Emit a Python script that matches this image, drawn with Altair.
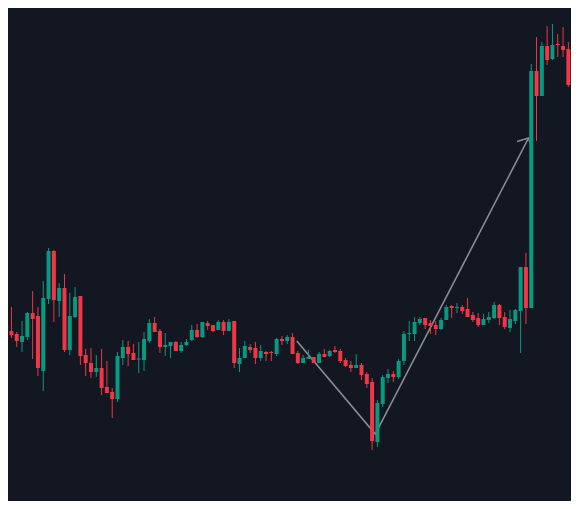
import altair as alt
import pandas as pd

# OHLC values (one candle per period)
opens = [17.4, 16.9, 16.6, 15.8, 16.3, 18.7, 18.4, 12.9, 20.1, 24.9,
         19.9, 21.2, 15.0, 18.3, 20.4, 14.5, 13.7, 12.8, 13.2, 11.3,
         10.8, 10.1, 14.2, 15.3, 14.7, 14.05, 14.0, 15.9, 17.7, 16.9,
         15.3, 15.4, 15.8, 14.9, 15.5, 16.0, 17.0, 16.3, 17.7, 17.5,
         17.0, 17.8, 16.9, 17.9, 13.6, 14.2, 15.3, 15.2, 14.2, 14.8,
         14.8, 14.6, 16.1, 15.9, 16.3, 14.7, 13.7, 14.1, 14.3, 13.7,
         14.6, 14.4, 15.0, 14.9, 14.0, 13.5, 13.2, 13.5, 12.6, 11.8,
         5.8, 9.6, 12.2, 12.6, 12.3, 13.9, 16.6, 16.6, 17.7, 18.2,
         17.7, 17.5, 17.1, 18.0, 19.4, 19.2, 19.3, 19.1, 18.5, 18.2,
         17.5, 18.0, 18.2, 19.5, 18.3, 17.2, 17.9, 18.9, 23.3, 19.2,
         42.9, 40.4, 45.4, 44.1, 45.6, 45.4, 45.1, 41.6]
closes = [16.8, 16.5, 15.9, 16.4, 18.7, 18.1, 13.2, 20.2, 24.9, 20.0,
          21.2, 15.0, 18.4, 20.3, 14.4, 13.7, 12.8, 13.2, 11.2, 10.7,
          10.1, 14.4, 15.3, 14.6, 14.0, 14.15, 16.1, 17.7, 16.8, 15.3,
          15.5, 15.8, 14.9, 15.5, 15.8, 17.0, 16.3, 17.8, 17.4, 16.9,
          17.8, 16.9, 17.8, 13.7, 14.2, 15.4, 15.0, 14.2, 14.9, 14.6,
          14.7, 16.1, 15.9, 16.3, 14.6, 13.7, 14.2, 14.3, 13.7, 14.6,
          14.3, 14.9, 14.8, 13.9, 13.4, 13.2, 13.5, 12.5, 11.6, 5.9,
          9.7, 12.3, 12.6, 12.3, 13.9, 16.6, 16.7, 17.8, 18.1, 17.5,
          17.4, 17.1, 18.0, 19.3, 19.2, 19.3, 18.9, 18.3, 18.0, 17.5,
          18.1, 18.3, 19.5, 18.2, 17.3, 18.1, 19.0, 23.3, 19.2, 42.9,
          40.4, 45.4, 44.0, 45.5, 45.5, 45.0, 41.5, 40.5]
highs = [17.8, 19.3, 16.8, 17.9, 18.8, 20.9, 19.3, 21.9, 25.2, 25.0,
         21.7, 22.6, 20.7, 21.3, 20.4, 15.1, 15.2, 14.5, 15.1, 13.9,
         11.2, 14.8, 16.0, 15.9, 15.6, 15.8, 16.8, 18.1, 18.3, 17.1,
         16.7, 15.8, 15.9, 15.8, 16.1, 17.5, 17.6, 17.8, 17.9, 17.5,
         18.0, 18.0, 18.1, 17.9, 15.2, 15.9, 15.6, 15.8, 15.5, 14.9,
         14.9, 16.2, 16.4, 16.5, 16.7, 14.9, 14.5, 15.0, 14.3, 14.8,
         15.1, 15.0, 15.4, 15.1, 14.2, 13.9, 14.6, 13.7, 12.8, 12.2,
         10.0, 12.5, 13.1, 12.9, 14.1, 16.9, 17.9, 18.3, 18.3, 18.2,
         18.0, 17.9, 18.2, 19.5, 19.5, 19.7, 19.5, 20.2, 18.8, 18.7,
         18.6, 18.8, 19.8, 19.6, 18.8, 19.0, 19.1, 23.3, 24.7, 43.6,
         46.3, 45.8, 47.4, 47.6, 46.6, 47.3, 45.8, 42.0]
lows = [15.8, 16.2, 15.3, 14.8, 16.0, 14.1, 12.4, 10.9, 19.6, 17.8,
        18.3, 14.8, 14.5, 18.2, 13.5, 12.4, 12.2, 12.3, 10.5, 10.7,
        8.2, 9.8, 13.5, 13.4, 14.0, 12.7, 12.9, 15.7, 16.8, 14.7,
        14.4, 14.2, 14.9, 14.7, 15.4, 15.9, 16.2, 16.2, 17.0, 16.8,
        17.0, 16.5, 16.9, 13.2, 12.8, 14.2, 14.7, 13.6, 13.9, 13.9,
        13.9, 14.4, 15.5, 15.6, 14.6, 13.6, 13.7, 14.1, 13.7, 13.7,
        14.3, 14.3, 14.7, 13.7, 13.3, 12.8, 13.2, 12.0, 11.2, 5.0,
        5.3, 9.3, 11.7, 11.8, 12.1, 13.5, 15.9, 15.9, 17.5, 17.1,
        16.6, 16.5, 17.0, 18.0, 18.2, 18.7, 18.6, 18.3, 17.8, 17.3,
        17.5, 17.7, 18.1, 17.5, 17.1, 16.8, 17.6, 14.7, 17.6, 19.2,
        35.9, 40.4, 43.5, 44.0, 44.3, 44.3, 41.3, 40.0]

# Drawn arrow (trend annotation): start, turning point, tip
arrow_x = [54.8, 69.6, 98.5]
arrow_y = [15.9, 6.6, 36.2]

GREEN = "#089981"
RED = "#F23645"
BG = "#131722"
LINE = "#8a8d96"

df = pd.DataFrame({
    "i": list(range(len(opens))),
    "open": opens,
    "high": highs,
    "low": lows,
    "close": closes,
})
arrow = pd.DataFrame({"k": [0, 1, 2], "x": arrow_x, "y": arrow_y})

xs = alt.Scale(domain=[1.2963, 105.556], nice=False, zero=False)
ys = alt.Scale(domain=[-0.1, 49.2], nice=False, zero=False)

col = alt.condition("datum.close >= datum.open", alt.value(GREEN), alt.value(RED))

base = alt.Chart(df)

wicks = base.mark_rule(strokeWidth=1, clip=True).encode(
    x=alt.X("i:Q", scale=xs, axis=None),
    y=alt.Y("low:Q", scale=ys, axis=None),
    y2="high:Q",
    color=col,
)

bodies = base.mark_bar(size=4, clip=True).encode(
    x=alt.X("i:Q", scale=xs, axis=None),
    y=alt.Y("open:Q", scale=ys, axis=None),
    y2="close:Q",
    color=col,
)

arrow_line = alt.Chart(arrow).mark_line(
    color=LINE, strokeWidth=1.6, clip=True
).encode(
    x=alt.X("x:Q", scale=xs, axis=None),
    y=alt.Y("y:Q", scale=ys, axis=None),
    order="k:Q",
)

arrow_head = alt.Chart(arrow).transform_filter("datum.k == 2").mark_point(
    shape="M -1 1 L 0 0 L 1 1",
    filled=False,
    size=289,
    angle=28,
    strokeWidth=1.6,
    color=LINE,
    opacity=1,
    clip=True,
).encode(
    x=alt.X("x:Q", scale=xs, axis=None),
    y=alt.Y("y:Q", scale=ys, axis=None),
)

chart = alt.layer(arrow_line, arrow_head, wicks, bodies).properties(
    width=563, height=493, background=BG, padding=0
).configure_view(stroke=None)

chart.save("out.html", embed_options={"renderer": "svg", "actions": False})
